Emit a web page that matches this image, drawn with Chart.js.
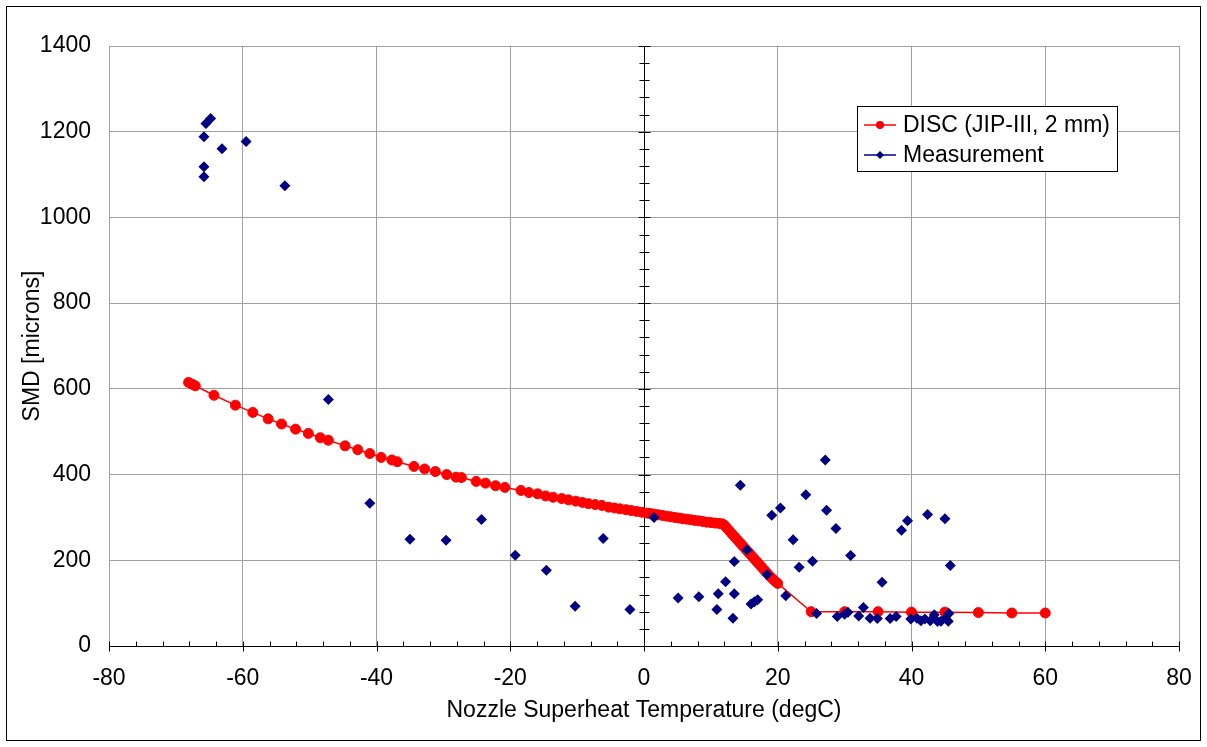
<!DOCTYPE html>
<html>
<head>
<meta charset="utf-8">
<script src="https://cdn.jsdelivr.net/npm/chart.js@4/dist/chart.umd.min.js"></script>
<style>
  html, body { margin: 0; padding: 0; background: #fff; }
  #wrap { width: 1207px; height: 747px; position: relative; }
</style>
</head>
<body>
<div id="wrap"><canvas id="c" width="1207" height="747"></canvas></div>
<script>
// ---------- data ----------
const seriesNames = ["DISC (JIP-III, 2 mm)", "Measurement"];
const xTitle = "Nozzle Superheat Temperature (degC)";
const yTitle = "SMD [microns]";

const discX = [-68.1, -67.6, -67.1, -64.3, -61.1, -58.5, -56.2, -54.2, -52.1, -50.2,
  -48.4, -47.2, -44.7, -42.8, -41.0, -39.3, -37.7, -36.9, -34.4, -32.8,
  -31.2, -29.5, -28.1, -27.3, -25.1, -23.7, -22.2, -20.8, -18.4, -17.2,
  -15.9, -14.7, -13.6, -12.3, -11.3, -10.2, -9.2, -8.3, -7.3, -6.3,
  -5.3, -4.4, -3.6, -2.7, -1.9, -1.1, -0.3,
  0.5, 1.0, 1.6, 2.2, 2.8, 3.4, 4.0, 4.6, 5.2, 5.8, 6.4, 7.0, 7.6, 8.2, 8.8, 9.4, 10.0, 10.6, 11.2, 11.7,
  12.0, 12.4, 12.8, 13.2, 13.6, 14.0, 14.4, 14.8, 15.2, 15.6, 16.0, 16.4, 16.8, 17.2, 17.6, 18.0, 18.4, 18.8, 19.2, 19.6, 20.0,
  25.0, 30.0, 35.0, 40.0, 45.0, 50.0, 55.0, 60.0];
const discY = [615, 611, 607, 585, 562, 545, 530, 518, 506, 496,
  486, 480, 467, 458, 449, 440, 434, 430, 419, 413,
  407, 400, 394, 393, 384, 380, 374, 370, 363, 358,
  355, 350, 347, 344, 341, 338, 335, 332, 330, 328,
  324, 322, 320, 318, 316, 314, 312,
  310, 309, 307.5, 306, 304.5, 303, 301.5, 300, 298.5, 297, 296, 294.5, 293, 292, 290.5, 289, 288, 287, 286, 285,
  282, 275, 268, 261, 254, 247, 240, 233, 226, 219, 212, 205, 198, 191, 184, 177, 170, 163, 157, 151, 146,
  80, 80, 80, 79, 79, 78, 77, 77];

const measX = [-64.8, -65.5, -65.8, -63.1, -59.5, -65.8, -65.8, -53.7,
  -47.2, -41.0, -35.0, -29.6, -24.3, -19.25, -14.6, -10.3, -6.1, -2.1, 1.5,
  5.1, 8.2, 10.9, 11.1, 12.2, 13.3, 13.5, 13.5, 14.4, 15.4, 16.0, 16.5, 17.0, 18.4, 19.1, 20.4,
  21.2, 22.3, 23.2, 24.2, 25.2, 25.8, 27.1, 27.3, 28.7, 28.9, 30.0, 30.5, 30.9,
  32.1, 32.8, 33.8, 34.9, 35.6, 36.8, 37.7, 38.5, 39.4, 39.9, 40.8, 41.4, 42.0, 42.4,
  42.8, 43.4, 43.9, 44.4, 45.0, 45.1, 45.5, 45.6, 45.8];
const measY = [1231, 1219, 1188, 1160, 1177, 1118, 1095, 1074,
  575, 333, 249, 247, 295, 212, 177, 93, 251, 85, 300,
  112, 115, 85, 122, 150, 65, 197, 122, 375, 224, 98, 103, 108, 167, 305, 322,
  117, 248, 184, 353, 198, 76, 434, 317, 274, 69, 74, 79, 211,
  70, 90, 65, 64, 149, 64, 69, 270, 292, 63, 65, 59, 63, 307,
  59, 73, 57, 58, 297, 65, 58, 76, 188];

const xTicks = [-80, -60, -40, -20, 0, 20, 40, 60, 80];
const yTicks = [0, 200, 400, 600, 800, 1000, 1200, 1400];

// ---------- styling ----------
const FONT = '"Liberation Sans", Arial, sans-serif';
const FS = 23;
const RED = '#FF0000';
const NAVY = '#000080';
const GRID = '#A0A0A0';

function toPts(xs, ys) { return xs.map((x, i) => ({ x: x, y: ys[i] })); }

const axesPlugin = {
  id: 'excelAxes',
  beforeDatasetsDraw(chart) {
    const ctx = chart.ctx;
    const xs = chart.scales.x, ys = chart.scales.y;
    const x0 = Math.round(xs.getPixelForValue(0)) + 0.5;
    const y0 = Math.round(ys.getPixelForValue(0)) + 0.5;
    ctx.save();
    ctx.strokeStyle = '#000';
    ctx.lineWidth = 1;
    ctx.beginPath();
    ctx.moveTo(x0, ys.getPixelForValue(0));
    ctx.lineTo(x0, ys.getPixelForValue(1400));
    for (let v = 0; v <= 1400; v += 40) {
      const p = Math.round(ys.getPixelForValue(v)) + 0.5;
      const major = v % 200 === 0;
      const L = major ? 6 : 5;
      ctx.moveTo(x0 - L, p); ctx.lineTo(x0 + L, p);
    }
    ctx.moveTo(xs.getPixelForValue(-80), y0);
    ctx.lineTo(xs.getPixelForValue(80), y0);
    for (let v = -80; v <= 80; v += 4) {
      const p = Math.round(xs.getPixelForValue(v)) + 0.5;
      const major = v % 20 === 0;
      ctx.moveTo(p, y0 - 5); ctx.lineTo(p, y0 + (major ? 5 : 0));
    }
    ctx.stroke();
    ctx.restore();
  },
  afterDraw(chart) {
    const ctx = chart.ctx;
    ctx.save();
    ctx.strokeStyle = '#000';
    ctx.lineWidth = 1;
    ctx.strokeRect(6.5, 6.5, chart.width - 13, chart.height - 13);
    const bx = 857.5, by = 106.5, bw = 260, bh = 65;
    ctx.fillStyle = '#fff';
    ctx.fillRect(bx, by, bw, bh);
    ctx.strokeRect(bx, by, bw, bh);
    const rows = [
      { label: seriesNames[0], color: RED, style: 'circle', r: 4, y: 125 },
      { label: seriesNames[1], color: NAVY, style: 'rectRot', r: 4, y: 155 }
    ];
    rows.forEach(row => {
      ctx.strokeStyle = row.color;
      ctx.lineWidth = 1.5;
      ctx.beginPath();
      ctx.moveTo(864, row.y); ctx.lineTo(896, row.y);
      ctx.stroke();
      ctx.fillStyle = row.color;
      ctx.beginPath();
      if (row.style === 'circle') {
        ctx.arc(880, row.y, row.r, 0, Math.PI * 2);
      } else {
        ctx.moveTo(880, row.y - row.r); ctx.lineTo(880 + row.r, row.y);
        ctx.lineTo(880, row.y + row.r); ctx.lineTo(880 - row.r, row.y);
        ctx.closePath();
      }
      ctx.fill();
      ctx.fillStyle = '#000';
      ctx.font = FS + 'px ' + FONT;
      ctx.textBaseline = 'middle';
      ctx.textAlign = 'left';
      ctx.fillText(row.label, 903, row.y + 1);
    });
    ctx.restore();
  }
};

new Chart(document.getElementById('c'), {
  type: 'scatter',
  data: {
    datasets: [
      {
        label: seriesNames[1],
        data: toPts(measX, measY),
        showLine: false,
        pointStyle: 'rectRot',
        pointRadius: 5.5,
        pointBackgroundColor: NAVY,
        pointBorderColor: NAVY,
        pointBorderWidth: 0,
        order: 0
      },
      {
        label: seriesNames[0],
        data: toPts(discX, discY),
        showLine: true,
        borderColor: RED,
        borderWidth: 1.5,
        pointStyle: 'circle',
        pointRadius: 5,
        pointBackgroundColor: RED,
        pointBorderColor: RED,
        pointBorderWidth: 1,
        order: 1
      }
    ]
  },
  options: {
    responsive: false,
    devicePixelRatio: 1,
    animation: false,
    events: [],
    layout: { padding: { left: 6, right: 28, top: 46, bottom: 6 } },
    plugins: { legend: { display: false }, tooltip: { enabled: false } },
    scales: {
      x: {
        type: 'linear', min: -80, max: 80,
        afterFit(s) { s.height = 95; s.paddingLeft = 0; s.paddingRight = 0; },
        afterBuildTicks(s) { s.ticks = xTicks.map(v => ({ value: v })); },
        ticks: { color: '#000', font: { family: FONT, size: FS }, padding: 19, maxRotation: 0,
                 callback: v => String(v) },
        grid: { color: GRID, lineWidth: 1, drawTicks: false },
        border: { display: false },
        title: { display: true, text: xTitle, color: '#000', font: { family: FONT, size: FS }, padding: { top: 0, bottom: 17 } }
      },
      y: {
        type: 'linear', min: 0, max: 1400,
        afterFit(s) { s.width = 103; s.paddingTop = 0; s.paddingBottom = 0; },
        afterBuildTicks(s) { s.ticks = yTicks.map(v => ({ value: v })); },
        ticks: { color: '#000', font: { family: FONT, size: FS }, padding: 18,
                 callback: v => String(v) },
        grid: { color: GRID, lineWidth: 1, drawTicks: false },
        border: { display: false },
        title: { display: true, text: yTitle, color: '#000', font: { family: FONT, size: FS }, padding: { top: 13, bottom: 0 } }
      }
    }
  },
  plugins: [axesPlugin]
});
</script>
</body>
</html>
